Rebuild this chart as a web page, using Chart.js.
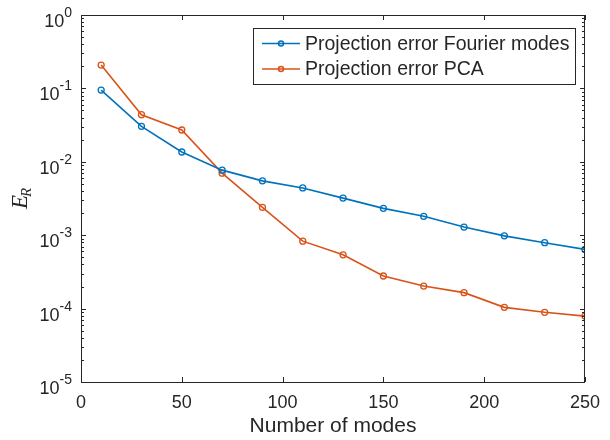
<!DOCTYPE html>
<html>
<head>
<meta charset="utf-8">
<script src="https://cdn.jsdelivr.net/npm/chart.js@4.4.0/dist/chart.umd.min.js"></script>
<style>
  html, body { margin: 0; padding: 0; background: #fff; }
</style>
</head>
<body>
<canvas id="errChart" width="610" height="440"></canvas>
<script>
const modes = [10, 30, 50, 70, 90, 110, 130, 150, 170, 190, 210, 230, 250];
const fourierErr = [0.095, 0.0304, 0.0136, 0.0077, 0.0055, 0.0044, 0.0032, 0.00232, 0.00181, 0.00129, 0.00098, 0.00079, 0.00064];
const pcaErr = [0.208, 0.0438, 0.0271, 0.0070, 0.0024, 0.00083, 0.00054, 0.000278, 0.000203, 0.000165, 0.000104, 0.000089, 0.000079];
const seriesNames = ['Projection error Fourier modes', 'Projection error PCA'];
const xTicks = [0, 50, 100, 150, 200, 250];
const yExponents = [0, -1, -2, -3, -4, -5];

const axisColor = '#262626';
const sans = '"Liberation Sans", Arial, Helvetica, sans-serif';

const toPoints = (xs, ys) => xs.map((x, i) => ({ x: x, y: ys[i] }));

// axes box, inward ticks, superscript labels, y title and legend
const matlabAxes = {
  id: 'matlabAxes',
  afterDatasetsDraw(chart) {
    const { ctx, chartArea: a, scales } = chart;
    const xs = scales.x, ys = scales.y;
    ctx.save();
    ctx.strokeStyle = axisColor;
    ctx.lineWidth = 1;
    ctx.strokeRect(a.left + 0.5, a.top + 0.5, a.right - a.left - 1, a.bottom - a.top);

    ctx.beginPath();
    xTicks.forEach(v => {
      const px = Math.round(xs.getPixelForValue(v)) + 0.5;
      ctx.moveTo(px, a.bottom); ctx.lineTo(px, a.bottom - 5);
      ctx.moveTo(px, a.top); ctx.lineTo(px, a.top + 5);
    });
    yExponents.forEach(e => {
      const py = Math.round(ys.getPixelForValue(Math.pow(10, e))) + 0.5;
      ctx.moveTo(a.left, py); ctx.lineTo(a.left + 5, py);
      ctx.moveTo(a.right, py); ctx.lineTo(a.right - 5, py);
      if (e < 0) {
        for (let k = 2; k <= 9; k++) {
          const my = Math.round(ys.getPixelForValue(k * Math.pow(10, e))) + 0.5;
          ctx.moveTo(a.left, my); ctx.lineTo(a.left + 3, my);
          ctx.moveTo(a.right, my); ctx.lineTo(a.right - 3, my);
        }
      }
    });
    ctx.stroke();

    // y tick labels 10^e
    ctx.fillStyle = axisColor;
    ctx.textBaseline = 'alphabetic';
    ctx.textAlign = 'right';
    yExponents.forEach(e => {
      const py = ys.getPixelForValue(Math.pow(10, e));
      const exp = String(e);
      ctx.font = '14px ' + sans;
      const ew = ctx.measureText(exp).width;
      const right = a.left - 9;
      ctx.fillText(exp, right, py + 2);
      ctx.font = '18px ' + sans;
      ctx.fillText('10', right - ew, py + 12);
    });

    // y title E_R
    ctx.save();
    ctx.translate(27, 209);
    ctx.rotate(-Math.PI / 2);
    ctx.textAlign = 'left';
    ctx.font = 'italic 23px "Liberation Serif", "Times New Roman", serif';
    ctx.fillText('E', 0, 0);
    const eW = ctx.measureText('E').width;
    ctx.font = 'italic 15px "Liberation Serif", "Times New Roman", serif';
    ctx.fillText('R', eW - 2, 4);
    ctx.restore();

    // legend
    const lx = 253, ly = 28, lw = 322, lh = 56;
    ctx.fillStyle = '#fff';
    ctx.fillRect(lx, ly, lw, lh);
    ctx.strokeStyle = axisColor;
    ctx.lineWidth = 1;
    ctx.strokeRect(lx + 0.5, ly + 0.5, lw, lh);
    const rows = [43.5, 69];
    chart.data.datasets.forEach((ds, i) => {
      const y = rows[i];
      ctx.strokeStyle = ds.borderColor;
      ctx.lineWidth = 1.5;
      ctx.beginPath();
      ctx.moveTo(262, y); ctx.lineTo(300, y);
      ctx.stroke();
      ctx.beginPath();
      ctx.arc(281, y, 2.5, 0, Math.PI * 2);
      ctx.stroke();
      ctx.fillStyle = axisColor;
      ctx.font = '19.5px ' + sans;
      ctx.textAlign = 'left';
      ctx.textBaseline = 'middle';
      ctx.fillText(ds.label, 305, y + 1);
    });
    ctx.restore();
  }
};

new Chart(document.getElementById('errChart').getContext('2d'), {
  type: 'line',
  data: {
    datasets: [{
      label: seriesNames[0],
      data: toPoints(modes, fourierErr),
      borderColor: '#0072BD',
      borderWidth: 1.6,
      pointRadius: 3,
      pointBorderWidth: 1.3,
      pointBackgroundColor: 'rgba(0,0,0,0)',
      pointBorderColor: '#0072BD',
      tension: 0
    }, {
      label: seriesNames[1],
      data: toPoints(modes, pcaErr),
      borderColor: '#D95319',
      borderWidth: 1.6,
      pointRadius: 3,
      pointBorderWidth: 1.3,
      pointBackgroundColor: 'rgba(0,0,0,0)',
      pointBorderColor: '#D95319',
      tension: 0
    }]
  },
  options: {
    responsive: false,
    animation: false,
    layout: { padding: { top: 15, right: 23, left: 0, bottom: 0 } },
    plugins: {
      legend: { display: false },
      tooltip: { enabled: false }
    },
    scales: {
      x: {
        type: 'linear',
        min: 0,
        max: 250,
        afterBuildTicks: scale => { scale.ticks = xTicks.map(v => ({ value: v })); },
        afterFit: scale => { scale.height = 58; },
        grid: { display: false, drawTicks: false },
        border: { display: false },
        ticks: { color: axisColor, font: { family: sans, size: 18 }, padding: 10, maxRotation: 0 },
        title: {
          display: true,
          text: 'Number of modes',
          color: axisColor,
          font: { family: sans, size: 21 },
          padding: { top: 0, bottom: 1 }
        }
      },
      y: {
        type: 'logarithmic',
        min: 1e-5,
        max: 1,
        afterFit: scale => { scale.width = 81; },
        grid: { display: false, drawTicks: false },
        border: { display: false },
        ticks: { display: false }
      }
    }
  },
  plugins: [matlabAxes]
});
</script>
</body>
</html>
